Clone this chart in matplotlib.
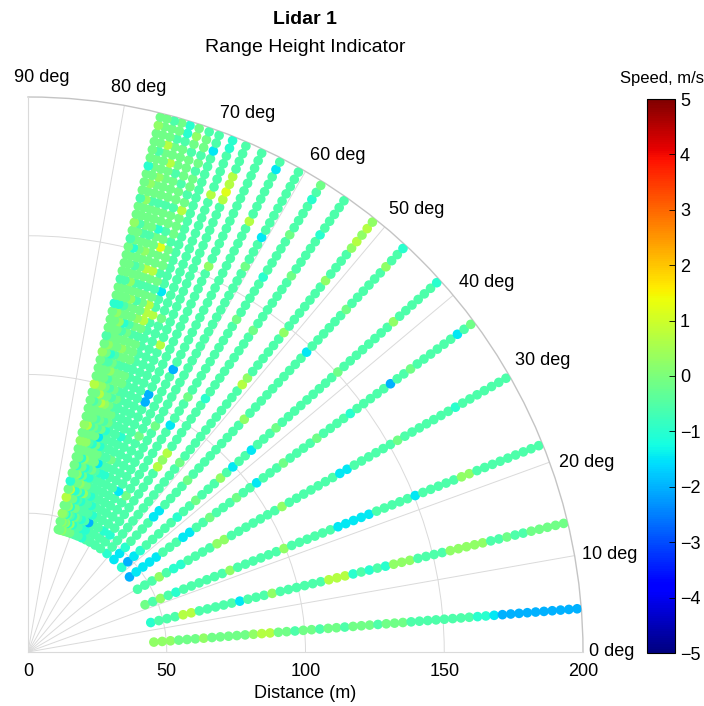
import numpy as np
import matplotlib.pyplot as plt

plt.rcParams['font.family'] = ['Liberation Sans', 'DejaVu Sans']

# scan geometry: elevation of each beam (deg) and range gates (m)
ray_angles = [4.5, 13.5, 22.0, 29.8, 36.5, 42.1, 47.1, 51.3, 55.0, 57.9, 60.6,
              62.8, 64.9, 66.7, 68.2, 69.7, 70.8, 71.9, 72.9, 73.8, 74.6, 75.4, 76.1]
gate_start = 45.5
gate_step = 3.0

# radial speed, one letter per range gate
speed_levels = {'B': -2.0, 'C': -1.45, 'c': -1.0, 'm': -0.55,
                'g': -0.15, 'G': 0.25, 'y': 0.7, 'Y': 1.2}
ray_speeds = [
    "GGGgggGggg ggGyyggmgg mggmgggmgg gmmmmmmmmc cCBBBBBBBB BB",
    "cmmmyymmmm mCmmmGmmmm mmyyycmcmc GGGmmmmGGG GGmmgmmggg gg",
    "gmGmcmmmmm mGmmmmmmGm mmmmmCCCCC mmmmmCmmmm mGGmmmmmmm mm",
    "mmmGmccmmm mGGmmmmmmm GmmmmmmmCC mmmmmmgmmm mmmmcmmmmm mm",
    "BCCCCmmmCC mmgmmmgmmC mmmgmmmmgm mmmcmmmmmB mmgmmmmmmC mg",
    "cBCcmmmmmc mmgmmmGmCm mCmmmgmmmm mmmmmgmmmm mmmmGmmmmm mc",
    "CCcmmmmCCm mmmgmmmmmm mmmGmmmmmm mmmmCmmmmm mgmmmmmmGm mc",
    "cmmmmmmmmm mmmmgmmmmm mmmmmmyGmm mmmmGmmmmm mmGmmmmGyG yG",
    "mmcmmmmmmm mmyGymmmmm mmcmmmmmmm mmgmmmmmmm gmmmmmcmmm mm",
    "mmcmmmmgmm mmmmmmmCmm mgmmmmmmmm mmgmmmmmcm mmmmgmmmmc mg",
    "mmmmmmmCmm mmmmmmgmmm mmmmmmmmmm mmmmmmmmgm mmCmmmmmmm mm",
    "mmmmmmmmmm mmmmgmmmmm mmmBmmmmmm mmmmmmmmmm mmmymmmmmm Cm",
    "ccBcmmmmmm mmmmmmmmBB mmmmmmmmmm mmmmmmGmmm mmmmmmmmmm mm",
    "mcmmcmmmcm gmmcmmmmmm mmmmmymmmm mmmmmmmmmm mmmmyYyymm mm",
    "mmcmmcmmcm mmmmmmmmmm mmmmmmmmgm mmmmmmmmmm mmmmymmmmm cc",
    "mmmmmmmmmC mmmmmmmmmm mmmmmmmmym mCmmmmmmmm mmmmmmmmmC mm",
    "gcgmcGgcgg gcmcggmgmg gmgggmgyyy gmgmgggmgg gygmggmgmg gm",
    "gGcgmcgcmg ggCgmggmgg gmgggmgGgg gmgyggYgmg gmggmgggmg Gg",
    "gcmgcgGgcg gcgmggGgmg gmgGggmggm gmgyggggcg gmgggmgggm cc",
    "gGgcgcgcgG gmggmgyggm GgmggmcggG gmgggGgmgg gmggggyggm gg",
    "GgcGgcgGgc gGgmgggyGg gmcgggGgmg gGgmgggmgg gmggGgggyg gm",
    "gGgggyggcg gGgyggmgGg gmgGgggGcg gmgggcggmg gGgGgggmgg gg",
    "ggGgygcggg gGgGggggyg ggGgmgggcg gmggggmgGg gmgggcgggg Gg",
]

theta_ticks = [0, 10, 20, 30, 40, 50, 60, 70, 80, 90]
r_ticks = [0, 50, 100, 150, 200]
cbar_ticks = [-5, -4, -3, -2, -1, 0, 1, 2, 3, 4, 5]

theta, rng, spd = [], [], []
for ang, s in zip(ray_angles, ray_speeds):
    s = s.replace(' ', '')
    r = gate_start + gate_step * np.arange(len(s))
    theta.append(np.full(len(s), np.deg2rad(ang)))
    rng.append(r)
    spd.append([speed_levels[ch] for ch in s])
theta = np.concatenate(theta)
rng = np.concatenate(rng)
spd = np.concatenate(spd)

fig = plt.figure(figsize=(7.04, 7.06), dpi=100)
ax = fig.add_axes([28 / 704, 54 / 706, 555 / 704, 555 / 706], projection='polar')
ax.set_thetamin(0)
ax.set_thetamax(90)
ax.set_rlim(0, 200)
ax.set_axisbelow(True)

sc = ax.scatter(theta, rng, c=spd, cmap='jet', vmin=-5, vmax=5, s=48,
                linewidths=0, zorder=3)

ax.set_xticks(np.deg2rad(theta_ticks))
ax.set_xticklabels([])
ax.set_yticks([50, 100, 150])
ax.set_yticklabels([])
ax.tick_params(length=0)
ax.grid(True, color='#dadada', lw=0.7)
ax.spines['polar'].set_color('#c4c4c4')
ax.spines['polar'].set_linewidth(1.0)
for side in ['start', 'end']:
    ax.spines[side].set_color('#dadada')
    ax.spines[side].set_linewidth(0.8)

# theta labels sit just outside the arc, as in the original
label_offsets = [(29, 0), (35, 1), (37, 0), (34, 14), (34, 13),
                 (32, 17), (32, 16), (30, 17), (14, 18), (14, 19)]
for deg, (dx, dy) in zip(theta_ticks, label_offsets):
    ax.annotate(f'{deg} deg', xy=(np.deg2rad(deg), 200), xytext=(dx, dy),
                textcoords='offset pixels', ha='center', va='center',
                fontsize=13, annotation_clip=False)
for r in r_ticks:
    ax.annotate(str(r), xy=(0, r), xytext=(0, -20), textcoords='offset pixels',
                ha='center', va='center', fontsize=13, annotation_clip=False)

fig.text(305 / 704, 1 - 693 / 706, 'Distance (m)', ha='center', va='center', fontsize=13)
fig.text(305 / 704, 1 - 20 / 706, 'Lidar 1', ha='center', va='center',
         fontsize=14, fontweight='bold')
fig.text(305 / 704, 1 - 47 / 706, 'Range Height Indicator', ha='center',
         va='center', fontsize=14)

cax = fig.add_axes([647 / 704, 53 / 706, 28 / 704, 554 / 706])
cb = fig.colorbar(sc, cax=cax, ticks=cbar_ticks)
cb.outline.set_linewidth(0.8)
cax.tick_params(labelsize=13, direction='in', length=4, width=0.6)
fig.text(662 / 704, 1 - 79 / 706, 'Speed, m/s', ha='center', va='center', fontsize=12)

fig.savefig('out.png', dpi=100)
